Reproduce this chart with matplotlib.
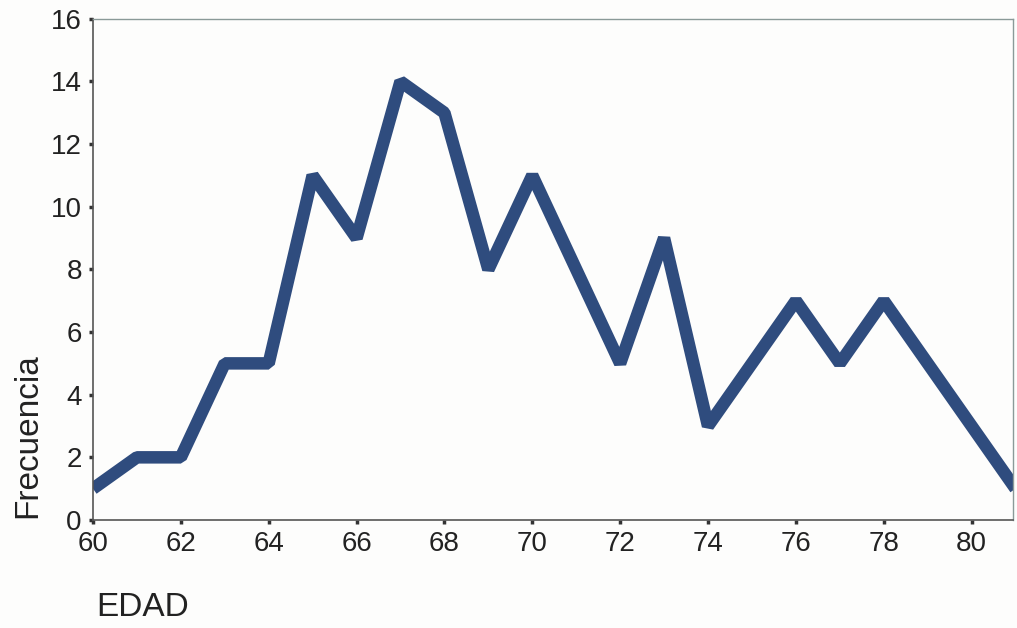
import matplotlib
matplotlib.use("Agg")
import matplotlib.pyplot as plt

# ==========================================
# Data
# ==========================================

edad = [60, 61, 62, 63, 64, 65, 66, 67, 68, 69, 70,
        71, 72, 73, 74, 75, 76, 77, 78, 79, 80, 81]

frecuencia = [1, 2, 2, 5, 5, 11, 9, 14, 13, 8, 11,
              8, 5, 9, 3, 5, 7, 5, 7, 5, 3, 1]

x_ticks = [60, 62, 64, 66, 68, 70, 72, 74, 76, 78, 80]
y_ticks = [0, 2, 4, 6, 8, 10, 12, 14, 16]

# ==========================================
# Plot
# ==========================================

plt.rcParams["font.family"] = ["Liberation Sans", "DejaVu Sans"]

fig = plt.figure(figsize=(10.17, 6.28), dpi=100)
fig.patch.set_facecolor("#fdfdfc")

ax = fig.add_axes([0.0914, 0.172, 0.905, 0.798])
ax.set_facecolor("#fdfdfc")

ax.plot(
    edad,
    frecuencia,
    color="#2f4c7e",
    linewidth=9,
    solid_joinstyle="bevel",
    solid_capstyle="butt",
)

ax.set_xlim(60, 80.95)
ax.set_ylim(0, 16)

ax.set_xticks(x_ticks)
ax.set_yticks(y_ticks)

ax.tick_params(
    axis="both",
    direction="out",
    length=3,
    width=2.5,
    color="#333333",
    labelsize=20,
    labelcolor="#222222",
    pad=5,
)

for side in ["left", "bottom"]:
    ax.spines[side].set_color("#555555")
    ax.spines[side].set_linewidth(1.2)

for side in ["top", "right"]:
    ax.spines[side].set_color("#8a9a98")
    ax.spines[side].set_linewidth(1.0)

fig.text(
    0.027, 0.307,
    "Frecuencia",
    rotation=90,
    ha="center",
    va="center",
    fontsize=24,
    color="#222222",
)

fig.text(
    0.095, 0.032,
    "EDAD",
    ha="left",
    va="center",
    fontsize=24,
    color="#222222",
)

plt.savefig("out.png", dpi=100, facecolor=fig.get_facecolor())
